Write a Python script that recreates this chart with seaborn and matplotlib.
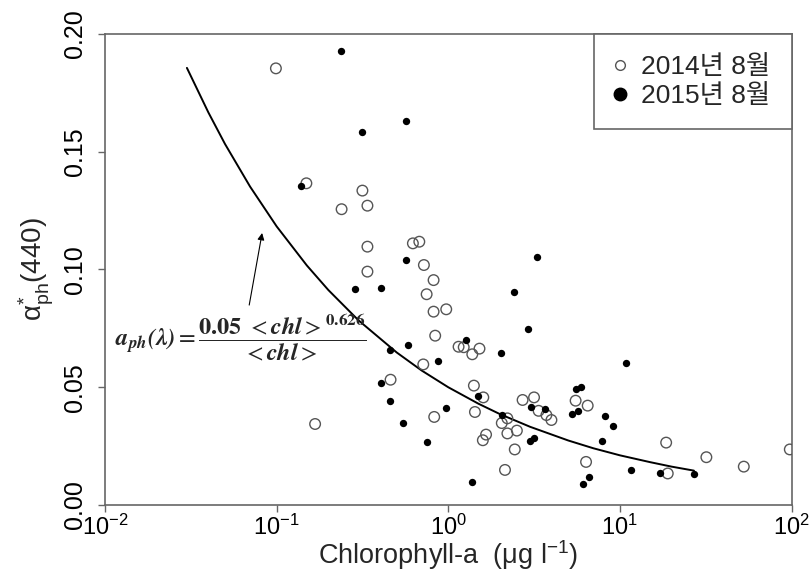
import matplotlib
matplotlib.use('Agg')
import matplotlib.pyplot as plt
import seaborn as sns
from matplotlib.lines import Line2D
from matplotlib.ticker import FixedLocator, NullLocator, FormatStrFormatter

# ---- data ----
chl_2014 = [0.099, 0.149, 0.239, 0.316, 0.338, 0.338, 0.338, 0.622, 0.678, 0.721,
            0.821, 0.748, 0.821, 0.973, 0.839, 1.148, 1.23, 1.52, 1.38, 0.715,
            0.461, 0.1675, 0.828, 1.41, 1.60, 1.43, 1.66, 1.59, 2.05, 2.21,
            2.21, 2.51, 2.44, 2.14, 2.71, 3.16, 3.36, 3.73, 3.99, 5.52,
            6.49, 6.35, 18.6, 19.0, 31.9, 52.7, 97.7]
a_2014 = [0.1854, 0.1366, 0.1256, 0.1335, 0.1271, 0.1097, 0.0991, 0.1111, 0.1118, 0.1019,
          0.0955, 0.0895, 0.0821, 0.0831, 0.0719, 0.0672, 0.0670, 0.0664, 0.0640, 0.0597,
          0.0532, 0.0344, 0.0374, 0.0507, 0.0457, 0.0395, 0.0299, 0.0275, 0.0348, 0.0368,
          0.0304, 0.0316, 0.0236, 0.0149, 0.0446, 0.0457, 0.0400, 0.0382, 0.0361, 0.0443,
          0.0422, 0.0183, 0.0265, 0.0134, 0.0203, 0.0163, 0.0236]

chl_2015 = [0.238, 0.316, 0.567, 0.138, 0.567, 3.29, 0.288, 0.408, 2.42, 2.92,
            1.27, 2.03, 0.585, 0.457, 0.867, 10.8, 0.407, 0.457, 0.545, 0.750,
            0.973, 1.49, 1.37, 2.06, 3.05, 3.68, 3.0, 3.14, 5.57, 5.94,
            5.28, 5.70, 8.15, 9.12, 7.91, 6.07, 6.64, 11.6, 17.2, 26.9]
a_2015 = [0.1928, 0.1585, 0.1629, 0.1355, 0.1040, 0.1052, 0.0916, 0.0921, 0.0904, 0.0749,
          0.0701, 0.0647, 0.0678, 0.0657, 0.0613, 0.0602, 0.0519, 0.0443, 0.0348, 0.0268,
          0.0413, 0.0461, 0.0096, 0.0384, 0.0415, 0.0406, 0.0270, 0.0284, 0.0491, 0.0500,
          0.0386, 0.0400, 0.0378, 0.0334, 0.0270, 0.0088, 0.0120, 0.0149, 0.0137, 0.0130]

fit_chl = [0.03, 0.04, 0.05, 0.07, 0.1, 0.15, 0.2, 0.3, 0.5, 0.7,
           1.0, 1.5, 2.0, 3.0, 5.0, 7.0, 10.0, 15.0, 20.0, 27.0]
fit_a = [0.1856, 0.1667, 0.1533, 0.1352, 0.1183, 0.1017, 0.0913, 0.0784, 0.0648, 0.0571,
         0.0500, 0.0430, 0.0386, 0.0332, 0.0274, 0.0241, 0.0211, 0.0182, 0.0163, 0.0146]

series_labels = ['2014년 8월', '2015년 8월']
x_ticks = [0.01, 0.1, 1, 10, 100]
y_ticks = [0.00, 0.05, 0.10, 0.15, 0.20]

# ---- style ----
sns.set_style('ticks')
plt.rcParams['font.family'] = ['Liberation Sans', 'Noto Sans CJK KR']
plt.rcParams['mathtext.fontset'] = 'stix'

spine_col = '#666666'

fig = plt.figure(figsize=(8.11, 5.72), dpi=100)
ax = fig.add_axes([0.1295, 0.1171, 0.8465, 0.8235])
ax.set_xscale('log')

sns.lineplot(x=fit_chl, y=fit_a, ax=ax, color='black', lw=1.4, zorder=2,
             sort=False, estimator=None)
sns.scatterplot(x=chl_2014, y=a_2014, ax=ax, s=58, facecolors='none',
                edgecolor='#555555', linewidth=1.0, zorder=3)
sns.scatterplot(x=chl_2015, y=a_2015, ax=ax, s=28, color='black',
                edgecolor='black', linewidth=0, zorder=4)

ax.set_xlim(0.01, 100)
ax.set_ylim(0.0, 0.20)
ax.xaxis.set_major_locator(FixedLocator(x_ticks))
ax.xaxis.set_minor_locator(NullLocator())
ax.yaxis.set_major_locator(FixedLocator(y_ticks))
ax.yaxis.set_major_formatter(FormatStrFormatter('%.2f'))

for sp in ax.spines.values():
    sp.set_color(spine_col)
    sp.set_linewidth(1.2)

ax.tick_params(axis='both', direction='out', length=5, width=1.0,
               color=spine_col, labelcolor='black')
ax.tick_params(axis='x', pad=2, labelsize=17)
ax.tick_params(axis='y', pad=8, labelrotation=90, labelsize=18)
for lab in ax.get_yticklabels():
    lab.set_va('center')

ax.set_xlabel(r'Chlorophyll-a  (μg l$\mathregular{^{-1}}$)', fontsize=19.5, labelpad=-1.5)
ax.set_ylabel(r'$\mathregular{\alpha^{*}_{ph}}$(440)', fontsize=20, labelpad=5)

# formula and arrow
ax.text(0.198, 0.356,
        r'$\mathbfit{a_{ph}(\lambda)} = \dfrac{\mathbf{0.05}\ <\mathbfit{chl}>^{\mathbf{0.626}}}{<\mathbfit{chl}>}$',
        transform=ax.transAxes, ha='center', va='center', fontsize=17.5)
ax.annotate('', xy=(0.0823, 0.1155), xytext=(0.0692, 0.0849),
            arrowprops=dict(arrowstyle='-|>', color='black', lw=0.8,
                            mutation_scale=10, shrinkA=0, shrinkB=0))

# legend
handles = [
    Line2D([], [], ls='', marker='o', markersize=7, markerfacecolor='none',
           markeredgecolor='#555555', markeredgewidth=1.0),
    Line2D([], [], ls='', marker='o', markersize=9, markerfacecolor='black',
           markeredgecolor='black'),
]
leg = ax.legend(handles, series_labels, loc='upper right', bbox_to_anchor=(1, 1),
                borderaxespad=0, frameon=True, fancybox=False, fontsize=19,
                handlelength=0.35, handletextpad=0.65, labelspacing=0.18,
                borderpad=0.8, framealpha=1)
leg.get_frame().set_edgecolor(spine_col)
leg.get_frame().set_linewidth(1.2)

fig.savefig('out.png', dpi=100)
